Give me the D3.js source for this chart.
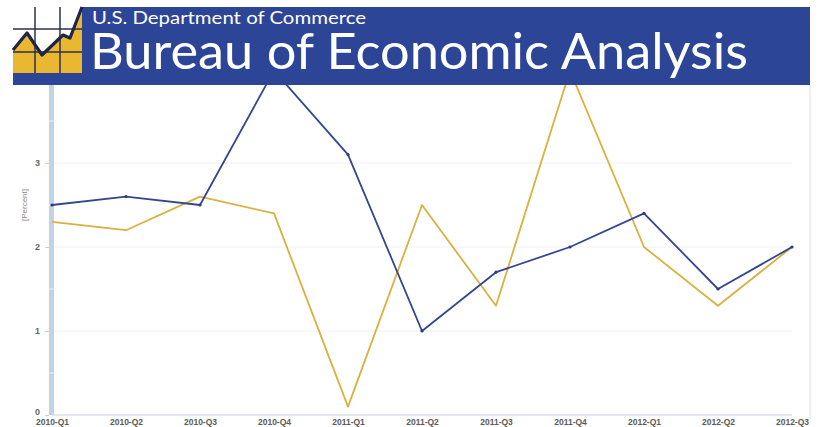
<!DOCTYPE html>
<html><head><meta charset="utf-8">
<script src="https://cdn.jsdelivr.net/npm/d3@7"></script>
<style>html,body{margin:0;padding:0;background:#fff;}svg{display:block;}</style>
</head><body>
<svg id="c" width="819" height="427"></svg>
<script>
const categories = ["2010-Q1","2010-Q2","2010-Q3","2010-Q4","2011-Q1","2011-Q2","2011-Q3","2011-Q4","2012-Q1","2012-Q2","2012-Q3"];
const seriesBlue = [2.5,2.6,2.5,4.1,3.1,1.0,1.7,2.0,2.4,1.5,2.0];
const seriesGold = [2.3,2.2,2.6,2.4,0.1,2.5,1.3,4.1,2.0,1.3,2.0];
const yTicks = [0,1,2,3];
const yMinor = [0.5,1.5,2.5,3.5];
const yLabel = "[Percent]";
const headerSmall = "U.S. Department of Commerce";
const headerBig = "Bureau of Economic Analysis";

const svg = d3.select("#c");
const x = d3.scalePoint().domain(categories).range([52,792]);
const y = d3.scaleLinear().domain([0,4]).range([415,79]);

// right faint border
svg.append("line").attr("x1",810).attr("x2",810).attr("y1",85).attr("y2",420)
  .attr("stroke","#e6e9ee").attr("stroke-width",1.5);

// gridlines
svg.append("g").selectAll("line").data(yTicks.filter(d=>d>0)).join("line")
  .attr("x1",54).attr("x2",792).attr("y1",d=>y(d)).attr("y2",d=>y(d))
  .attr("stroke","#eef0f3").attr("stroke-width",1);
svg.append("line").attr("x1",52).attr("x2",792).attr("y1",y(0)).attr("y2",y(0))
  .attr("stroke","#dde2ea").attr("stroke-width",1.5);

// axis bar
svg.append("rect").attr("x",49).attr("y",85).attr("width",5).attr("height",y(0)-85)
  .attr("fill","#c3d3e3");
svg.append("g").selectAll("line").data(yMinor).join("line")
  .attr("x1",49).attr("x2",54).attr("y1",d=>y(d)).attr("y2",d=>y(d))
  .attr("stroke","#e8eef5").attr("stroke-width",1.2);

const yAxis = svg.append("g").attr("transform","translate(49,0)")
  .call(d3.axisLeft(y).tickValues(yTicks).tickSize(4).tickPadding(5).tickFormat(d3.format("d")));
yAxis.select(".domain").remove();
yAxis.selectAll(".tick line").attr("stroke","#c8d0da");
yAxis.selectAll("text").attr("fill","#666").attr("font-family","Liberation Sans, Arial").attr("font-size",9).attr("font-weight","bold");
yAxis.selectAll(".tick").filter(d=>d===0).select("text").attr("dy","-0.1em");

svg.append("text").attr("transform","translate(27,205) rotate(-90)")
  .attr("text-anchor","middle").attr("fill","#888").attr("font-family","Liberation Sans, Arial")
  .attr("font-size",8).text(yLabel);

const xAxis = svg.append("g").attr("transform","translate(0,415)")
  .call(d3.axisBottom(x).tickSize(0).tickPadding(4));
xAxis.select(".domain").remove();
xAxis.selectAll("text").attr("fill","#5a5a5a").attr("font-family","Liberation Sans, Arial").attr("font-size",8.5).attr("font-weight","bold");

// lines
const line = d3.line().x((d,i)=>x(categories[i])).y(d=>y(d));
svg.append("path").datum(seriesGold).attr("d",line).attr("fill","none")
  .attr("stroke","#d9b13f").attr("stroke-width",1.8).attr("stroke-linejoin","round");
svg.append("path").datum(seriesBlue).attr("d",line).attr("fill","none")
  .attr("stroke","#34478e").attr("stroke-width",1.8).attr("stroke-linejoin","round");
svg.append("g").selectAll("circle").data(seriesBlue).join("circle")
  .attr("cx",(d,i)=>x(categories[i])).attr("cy",d=>y(d)).attr("r",1.6).attr("fill","#2b3d80");

// header banner
const hb = svg.append("g");
hb.append("rect").attr("x",13).attr("y",7).attr("width",797).attr("height",78).attr("fill","#2d4597");
// logo
hb.append("rect").attr("x",13).attr("y",7).attr("width",69).attr("height",66).attr("fill","#ffffff");
hb.append("path").attr("d","M13,50 L27,33 L42,55 L63,35 L70,38 L82,7 L82,73 L13,73 Z").attr("fill","#e9b730");
const lg = hb.append("g").attr("stroke","#2c2f4a").attr("stroke-width",1.5);
[35,60].forEach(v=>lg.append("line").attr("x1",v).attr("x2",v).attr("y1",7).attr("y2",73));
[29,52].forEach(v=>lg.append("line").attr("x1",13).attr("x2",82).attr("y1",v).attr("y2",v));
hb.append("path").attr("d","M13,50 L27,33 L42,55 L63,35 L70,38 L82,7").attr("fill","none")
  .attr("stroke","#1f2547").attr("stroke-width",3.2).attr("stroke-linejoin","round");
hb.append("text").attr("x",92).attr("y",24).attr("fill","#fff").attr("font-family","Lato, DejaVu Sans")
  .attr("font-size",17).attr("textLength",274).attr("lengthAdjust","spacingAndGlyphs").text(headerSmall);
hb.append("text").attr("x",90).attr("y",69).attr("fill","#fff").attr("font-family","Lato, DejaVu Sans")
  .attr("font-size",50).attr("textLength",658).attr("lengthAdjust","spacingAndGlyphs").text(headerBig);
</script>
</body></html>
